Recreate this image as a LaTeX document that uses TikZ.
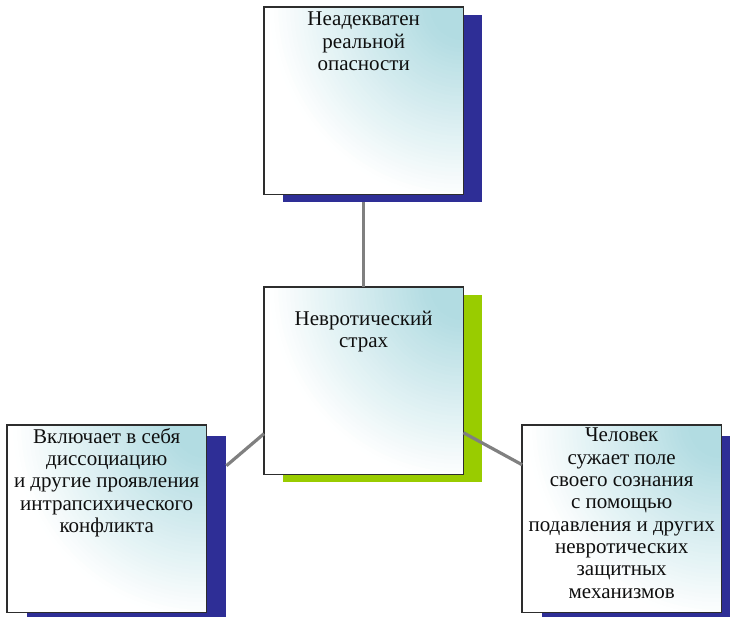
\documentclass[tikz,border=0pt]{standalone}
\usepackage{fontspec}
\setmainfont{Liberation Serif}
\definecolor{cyanlt}{RGB}{178,220,226}
\definecolor{shblue}{RGB}{46,46,150}
\definecolor{shgreen}{RGB}{153,204,0}
\definecolor{linegray}{RGB}{128,128,128}
\definecolor{txtc}{RGB}{15,15,15}
\definecolor{bordc}{RGB}{45,45,45}
\newcommand\mygradbox[1]{%
  \begin{scope}
    \clip (#1.north west) rectangle (#1.south east);
    \foreach \r in {205,201,...,18} {
      \pgfmathtruncatemacro\p{min(100,max(0,(195-\r)*0.625))}
      \fill[cyanlt!\p!white] (#1.north east) circle (\r pt);
    }
  \end{scope}
  \draw[boxborder] (#1.north west) rectangle (#1.south east);
}
\tikzset{
  boxnode/.style={fill=white, inner sep=0pt, minimum width=199pt, minimum height=187pt},
  boxborder/.style={draw=bordc, line width=1.2pt},
  shadowbox/.style={inner sep=0pt, minimum width=199pt, minimum height=187pt},
  txt/.style={font=\fontsize{21}{22.3}\selectfont, text=txtc, align=center, anchor=north, inner sep=0pt},
  conn/.style={draw=linegray, line width=3.2pt}
}
\begin{document}
\begin{tikzpicture}[x=1pt,y=-1pt]
\useasboundingbox (0,0) rectangle (730,617);
\clip (0,0) rectangle (730,617);
% shadows
\node[shadowbox, fill=shblue, anchor=north west] (ts) at (283,15) {};
\node[shadowbox, fill=shgreen, anchor=north west] (cs) at (283,295) {};
\node[shadowbox, fill=shblue, anchor=north west, minimum height=200pt] (ls) at (27,436) {};
\node[shadowbox, fill=shblue, anchor=north west, minimum height=200pt] (rs) at (542,436) {};
% boxes
\node[boxnode, anchor=north west] (t) at (264,7) {};
\node[boxnode, anchor=north west] (c) at (264,287) {};
\node[boxnode, anchor=north west] (l) at (7,425) {};
\node[boxnode, anchor=north west] (r) at (522,425) {};
\mygradbox{t}
\mygradbox{c}
\mygradbox{l}
\mygradbox{r}
% connectors
\draw[conn] (ts.south -| t.south) -- (c.north);
\draw[conn] ([yshift=-53pt]c.west) -- ([yshift=53pt]ls.east |- l.east);
\draw[conn] ([yshift=-52pt]c.east) -- ([yshift=54pt]r.west);
% texts
\node[txt] (tt) at ([yshift=-5pt]t.north) {Неадекватен\\реальной\\опасности};
\node[txt] (ct) at ([yshift=-24pt]c.north) {Невротический\\страх};
\node[txt] (lt) at ([yshift=-3pt]l.north) {Включает в себя\\диссоциацию\\и другие проявления\\интрапсихического\\конфликта};
\node[txt] (rt) at ([yshift=-3pt]r.north) {Человек\\сужает поле\\своего сознания\\с помощью\\подавления и других\\невротических\\защитных\\механизмов};
\end{tikzpicture}
\end{document}
